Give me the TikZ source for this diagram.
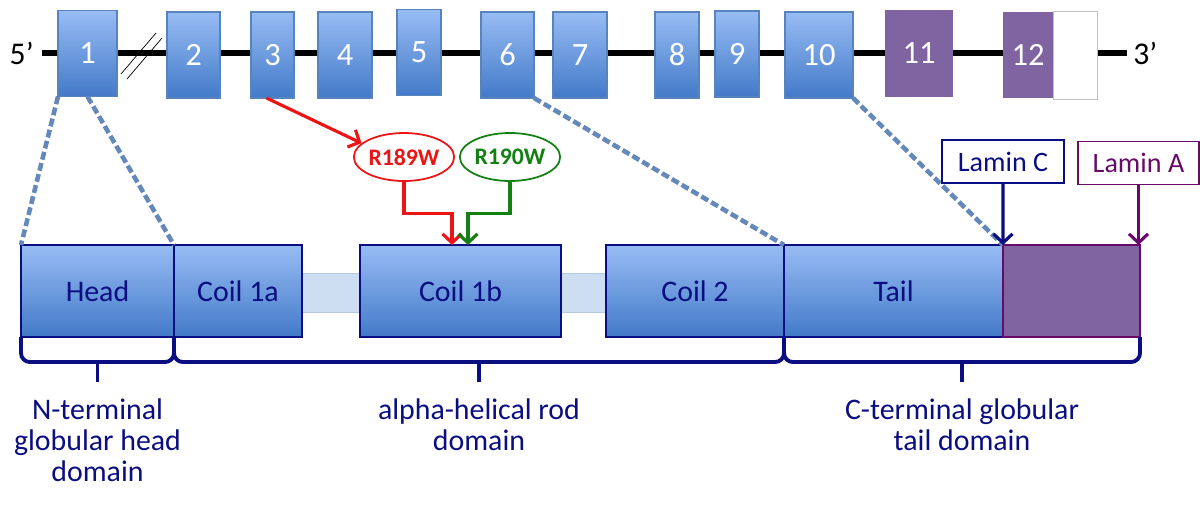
\documentclass[tikz,border=0pt]{standalone}
\usepackage{fontspec}
\setmainfont{Carlito}
\usetikzlibrary{shapes.geometric,arrows.meta,calc}

\definecolor{exonedge}{RGB}{88,132,190}
\definecolor{exontop}{RGB}{152,188,244}
\definecolor{exonbottom}{RGB}{66,122,200}
\definecolor{lmnpurple}{RGB}{128,100,162}
\definecolor{lmnadark}{RGB}{104,10,104}
\definecolor{domainnavy}{RGB}{10,14,128}
\definecolor{linkerfill}{RGB}{206,222,242}
\definecolor{linkeredge}{RGB}{180,200,228}
\definecolor{mapblue}{RGB}{100,136,186}
\definecolor{mutred}{RGB}{236,20,20}
\definecolor{mutgreen}{RGB}{20,128,20}

\tikzset{exon/.style={
          rectangle,
          inner sep       = 0pt,
          outer sep       = 0pt,
          minimum height  = 1.72cm,
          draw            = exonedge,
          line width      = 0.6pt,
          top color       = exontop,
          bottom color    = exonbottom,
          text            = white,
          font            = \fontsize{18.5}{20}\selectfont
        }}
\tikzset{purpleexon/.style={
          rectangle,
          inner sep       = 0pt,
          outer sep       = 0pt,
          minimum height  = 1.74cm,
          fill            = lmnpurple,
          text            = white,
          font            = \fontsize{18.5}{20}\selectfont
        }}
\tikzset{utrexon/.style={
          rectangle,
          inner sep       = 0pt,
          outer sep       = 0pt,
          minimum height  = 1.76cm,
          draw            = black!25,
          fill            = white
        }}
\tikzset{domainbox/.style={
          rectangle,
          inner sep       = 0pt,
          outer sep       = 0pt,
          minimum height  = 1.84cm,
          draw            = domainnavy,
          line width      = 1pt,
          top color       = exontop,
          bottom color    = exonbottom,
          text            = domainnavy,
          font            = \fontsize{17}{19}\selectfont
        }}
\tikzset{lmnabox/.style={
          rectangle,
          inner sep       = 0pt,
          outer sep       = 0pt,
          minimum height  = 1.84cm,
          draw            = lmnadark,
          line width      = 1pt,
          fill            = lmnpurple
        }}
\tikzset{linker/.style={
          rectangle,
          inner sep       = 0pt,
          minimum height  = 0.78cm,
          draw            = linkeredge,
          fill            = linkerfill
        }}
\tikzset{mutation/.style={
          ellipse,
          inner sep       = 0pt,
          minimum width   = 1.88cm,
          minimum height  = 0.96cm,
          line width      = 1pt,
          fill            = white,
          font            = \bfseries\fontsize{13.5}{15}\selectfont
        }}
\tikzset{isoform/.style={
          rectangle,
          inner sep       = 0pt,
          minimum height  = 0.86cm,
          line width      = 1pt,
          fill            = white,
          font            = \fontsize{16}{18}\selectfont
        }}
\tikzset{mapline/.style={draw=mapblue, line width=2.6pt, dash pattern=on 4.5pt off 2pt}}
\tikzset{domainbrace/.style={draw=domainnavy, line width=2.2pt, rounded corners=5pt}}
\tikzset{domaintext/.style={text=domainnavy, align=center, inner sep=0pt,
          font=\fontsize{17}{17.8}\selectfont}}
\tikzset{genelabel/.style={font=\fontsize{18}{20}\selectfont}}
\tikzset{mutarrow/.style={->, line width=1.8pt}}

\begin{document}
\begin{tikzpicture}[x=0.02cm, y=-0.02cm, >={Straight Barb[length=1.8mm,width=3.8mm]}]
    \useasboundingbox (0,0) rectangle (1200,505);

    % gene with exons
    \node (five)  [genelabel, anchor=east, inner sep=0.16cm] at (42,53)   {5’};
    \node (three) [genelabel, anchor=west, inner sep=0.12cm] at (1127,53) {3’};
    \draw [line width=3pt] (five.east) -- (three.west);
    \draw [thin] (121,74) -- (156,33);
    \draw [thin] (127,79) -- (162,38);

    \node (ex1)   [exon, minimum width=1.18cm] at (87.5,53.5)  {1};
    \node (ex2)   [exon, minimum width=1.06cm] at (193.5,55)   {2};
    \node (ex3)   [exon, minimum width=0.86cm] at (272.5,55)   {3};
    \node (ex4)   [exon, minimum width=1.08cm] at (345,55)     {4};
    \node (ex5)   [exon, minimum width=0.88cm] at (419,52.5)   {5};
    \node (ex6)   [exon, minimum width=1.06cm] at (507.5,55)   {6};
    \node (ex7)   [exon, minimum width=1.08cm] at (580,55)     {7};
    \node (ex8)   [exon, minimum width=0.88cm] at (677,55)     {8};
    \node (ex9)   [exon, minimum width=0.88cm] at (737,54)     {9};
    \node (ex10)  [exon, minimum width=1.36cm] at (819,55)     {10};
    \node (ex11)  [purpleexon, minimum width=1.36cm] at (919,53.5) {11};
    \node (ex12)  [purpleexon, minimum width=1.00cm] at (1028,55)  {12};
    \node (utr)   [utrexon, minimum width=0.88cm]    at (1075,55)  {};

    % protein domains
    \node (lnk1)   [linker, minimum width=1.16cm] at (331,292.5)   {};
    \node (lnk2)   [linker, minimum width=0.90cm] at (583.5,292.5) {};
    \node (head)   [domainbox, minimum width=3.06cm] at (97.5,291)  {Head};
    \node (coil1a) [domainbox, minimum width=2.56cm] at (238,291)   {Coil 1a};
    \node (coil1b) [domainbox, minimum width=4.02cm] at (460.5,291) {Coil 1b};
    \node (coil2)  [domainbox, minimum width=3.56cm] at (695,291)   {Coil 2};
    \node (tail)   [domainbox, minimum width=4.38cm] at (893.5,291) {Tail};
    \node (tailA)  [lmnabox, minimum width=2.74cm]   at (1071.5,291) {};

    % exon to domain mapping
    \draw [mapline] (ex1.south west) -- (head.north west);
    \draw [mapline] (ex1.south)      -- (head.north east);
    \draw [mapline] (ex6.south east) -- (coil2.north east);
    \draw [mapline] (ex10.south east) -- (tail.north east);

    % mutations
    \node (r189) [mutation, draw=mutred, text=mutred]     at (404,157) {R189W};
    \node (r190) [mutation, draw=mutgreen, text=mutgreen] at (510,157) {R190W};
    \coordinate (hitR) at ($(coil1b.north)+(-8.5,0)$);
    \coordinate (hitG) at ($(coil1b.north)+(7.5,0)$);
    \draw [mutarrow, draw=mutred]   ([xshift=-0.12cm]ex3.south) -- (r189.162);
    \draw [mutarrow, draw=mutred]   (r189.south) -- ++(0,32) -| (hitR);
    \draw [mutarrow, draw=mutgreen] (r190.south) -- ++(0,32) -| (hitG);

    % isoforms
    \node (laminC) [isoform, draw=domainnavy, text=domainnavy, minimum width=2.44cm] at (1003,161.5) {Lamin C};
    \node (laminA) [isoform, draw=lmnadark, text=lmnadark, minimum width=2.42cm]     at (1138.5,163) {Lamin A};
    \draw [mutarrow, draw=domainnavy] (laminC.south) -- (tail.north east);
    \draw [mutarrow, draw=lmnadark]   (laminA.south) -- (laminA.south |- tailA.north east);

    % domain braces
    \draw [domainbrace] (head.south west) |- ($(head.south east)+(0,25)$) -- (head.south east);
    \draw [domainbrace] ($(head.south)+(0,25)$) -- ++(0,20);
    \draw [domainbrace] (coil1a.south west) |- ($(coil2.south east)+(0,25)$) -- (coil2.south east);
    \draw [domainbrace] ($(coil1a.south west)!0.5!(coil2.south east)+(0,25)$) -- ++(0,20);
    \draw [domainbrace] (tail.south west) |- ($(tailA.south east)+(0,25)$) -- (tailA.south east);
    \draw [domainbrace] ($(tail.south west)!0.5!(tailA.south east)+(0,25)$) -- ++(0,20);

    \node (nterm) [domaintext, anchor=north] at ($(head.south)+(0,61)$) {N-terminal\\globular head\\domain};
    \node (rod)   [domaintext, anchor=north] at ($(coil1a.south west)!0.5!(coil2.south east)+(0,61)$) {alpha-helical rod\\domain};
    \node (cterm) [domaintext, anchor=north] at ($(tail.south west)!0.5!(tailA.south east)+(0,61)$) {C-terminal globular\\tail domain};

\end{tikzpicture}
\end{document}
